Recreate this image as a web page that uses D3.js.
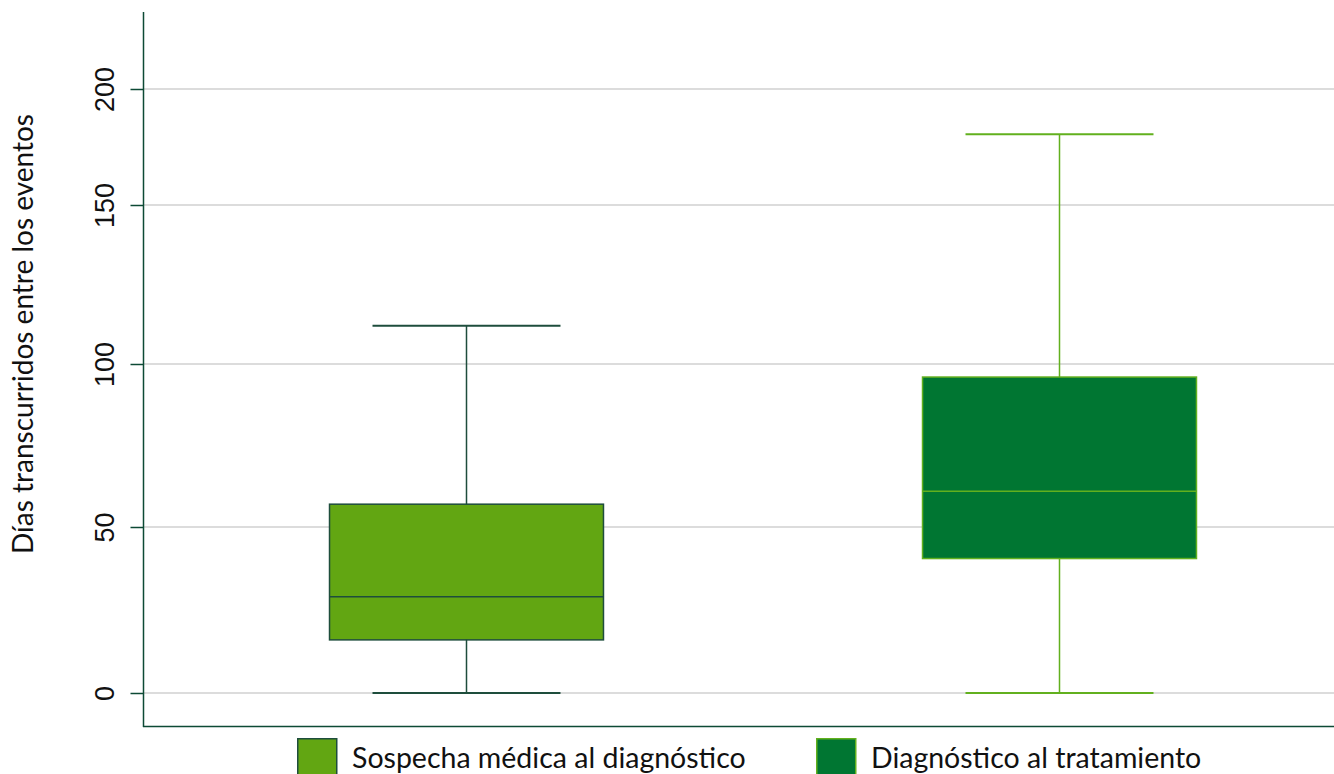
<!DOCTYPE html>
<html>
<head>
<meta charset="utf-8">
<script src="https://cdn.jsdelivr.net/npm/d3@7"></script>
<style>
  body { margin: 0; background: #fff; }
  svg { display: block; }
</style>
</head>
<body>
<svg width="1334" height="774"></svg>
<script>
var categories = ["Sospecha médica al diagnóstico", "Diagnóstico al tratamiento"];
var whiskerLow = [0, 0];
var q1 = [16, 40.5];
var median = [29, 61];
var q3 = [57, 96];
var whiskerHigh = [112, 180.5];
var yTicks = [0, 50, 100, 150, 200];

var fills = ["#62a612", "#007632"];
var strokes = ["#1e4d3c", "#62b01e"];
var axisColor = "#0d4a35";

var svg = d3.select("svg");

// the picture's vertical axis is not evenly spaced, so the scale is polylinear
var y = d3.scaleLinear()
    .domain(yTicks)
    .range([693, 527, 364, 205, 89]);

var x = d3.scaleBand()
    .domain(categories)
    .range([170, 1356]);

var boxW = x.bandwidth() * 0.462;
var capW = x.bandwidth() * 0.317;

// grid
svg.append("g")
    .selectAll("line")
    .data(yTicks)
    .enter()
    .append("line")
    .attr("x1", 144)
    .attr("x2", 1334)
    .attr("y1", function (d) { return y(d); })
    .attr("y2", function (d) { return y(d); })
    .attr("stroke", "#dcdcdc")
    .attr("stroke-width", 2);

var boxes = svg.append("g")
    .selectAll("g")
    .data(categories)
    .enter()
    .append("g");

boxes.append("line")
    .attr("x1", function (d) { return x(d) + x.bandwidth() / 2; })
    .attr("x2", function (d) { return x(d) + x.bandwidth() / 2; })
    .attr("y1", function (d, i) { return y(whiskerHigh[i]); })
    .attr("y2", function (d, i) { return y(whiskerLow[i]); })
    .attr("stroke", function (d, i) { return strokes[i]; })
    .attr("stroke-width", 1.5);

[whiskerHigh, whiskerLow].forEach(function (arr) {
    boxes.append("line")
        .attr("x1", function (d) { return x(d) + x.bandwidth() / 2 - capW / 2; })
        .attr("x2", function (d) { return x(d) + x.bandwidth() / 2 + capW / 2; })
        .attr("y1", function (d, i) { return y(arr[i]); })
        .attr("y2", function (d, i) { return y(arr[i]); })
        .attr("stroke", function (d, i) { return strokes[i]; })
        .attr("stroke-width", 2);
});

boxes.append("rect")
    .attr("x", function (d) { return x(d) + x.bandwidth() / 2 - boxW / 2; })
    .attr("width", boxW)
    .attr("y", function (d, i) { return y(q3[i]); })
    .attr("height", function (d, i) { return y(q1[i]) - y(q3[i]); })
    .attr("fill", function (d, i) { return fills[i]; })
    .attr("stroke", function (d, i) { return strokes[i]; })
    .attr("stroke-width", 1.5);

boxes.append("line")
    .attr("x1", function (d) { return x(d) + x.bandwidth() / 2 - boxW / 2; })
    .attr("x2", function (d) { return x(d) + x.bandwidth() / 2 + boxW / 2; })
    .attr("y1", function (d, i) { return y(median[i]); })
    .attr("y2", function (d, i) { return y(median[i]); })
    .attr("stroke", function (d, i) { return strokes[i]; })
    .attr("stroke-width", 1.5);

// axes
var yAxis = svg.append("g")
    .attr("transform", "translate(143.5,0)")
    .call(d3.axisLeft(y).tickValues(yTicks).tickSize(13).tickSizeOuter(0));
yAxis.select(".domain").remove();
yAxis.selectAll(".tick line").attr("stroke", axisColor).attr("stroke-width", 1.5);
yAxis.selectAll(".tick text")
    .attr("x", null).attr("dy", null)
    .attr("transform", "translate(-30,0) rotate(-90)")
    .attr("text-anchor", "middle")
    .attr("font-family", "'Liberation Sans', Arial, sans-serif")
    .attr("font-size", 27)
    .attr("fill", "#111");

svg.append("line")
    .attr("x1", 143.5).attr("x2", 143.5)
    .attr("y1", 12).attr("y2", 727)
    .attr("stroke", axisColor).attr("stroke-width", 1.5);
svg.append("line")
    .attr("x1", 143).attr("x2", 1334)
    .attr("y1", 726.5).attr("y2", 726.5)
    .attr("stroke", axisColor).attr("stroke-width", 1.5);

svg.append("text")
    .attr("transform", "translate(33,334) rotate(-90)")
    .attr("text-anchor", "middle")
    .attr("font-family", "Lato, 'Open Sans', sans-serif")
    .attr("font-size", 28)
    .attr("fill", "#111")
    .text("Días transcurridos entre los eventos");

// legend
var legendX = [297, 816];
var legend = svg.append("g")
    .selectAll("g")
    .data(categories)
    .enter()
    .append("g")
    .attr("transform", function (d, i) { return "translate(" + legendX[i] + ",738)"; });

legend.append("rect")
    .attr("x", 0.75).attr("y", 0.75)
    .attr("width", 39).attr("height", 40)
    .attr("fill", function (d, i) { return fills[i]; })
    .attr("stroke", function (d, i) { return strokes[i]; })
    .attr("stroke-width", 1.5);

legend.append("text")
    .attr("x", 55)
    .attr("y", 30)
    .attr("font-family", "Lato, 'Open Sans', sans-serif")
    .attr("font-size", 28.5)
    .attr("fill", "#111")
    .text(function (d) { return d; });
</script>
</body>
</html>
